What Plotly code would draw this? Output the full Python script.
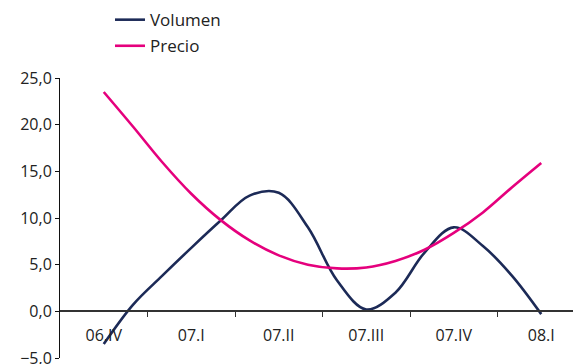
import plotly.graph_objects as go

quarters = ["06.IV", "07.I", "07.II", "07.III", "07.IV", "08.I"]
# monthly observations, 3 per quarter, from 06.IV to 08.I
volumen = [-3.5, 0.7, 3.8, 6.8, 9.7, 12.4, 12.7, 9.0, 3.3, 0.2, 2.0, 6.3, 9.0, 7.0, 3.8, -0.3]
precio = [23.5, 19.8, 16.0, 12.6, 9.8, 7.6, 6.0, 5.0, 4.6, 4.7, 5.4, 6.6, 8.4, 10.6, 13.3, 15.9]

x_pos = [i / 3 for i in range(len(volumen))]

NAVY = "#1c2a57"
MAGENTA = "#e5007d"
FONT = "Open Sans"

fig = go.Figure()
fig.add_trace(go.Scatter(x=x_pos, y=volumen, name="Volumen", mode="lines",
                         line=dict(color=NAVY, width=2.6, shape="spline", smoothing=1.0),
                         legendgroup="a"))
fig.add_trace(go.Scatter(x=x_pos, y=precio, name="Precio", mode="lines",
                         line=dict(color=MAGENTA, width=2.6, shape="spline", smoothing=1.0),
                         legendgroup="b"))

fig.update_layout(
    width=581, height=364,
    margin=dict(l=52, r=4, t=70, b=14, autoexpand=False),
    paper_bgcolor="white", plot_bgcolor="white",
    separators=",.",
    font=dict(family=FONT, size=16, color="#222222"),
    showlegend=True,
    legend=dict(xref="paper", yref="paper", x=0.0952, y=1.271,
                xanchor="left", yanchor="top", bgcolor="rgba(0,0,0,0)",
                font=dict(size=17, color="#222222"), tracegroupgap=1,
                itemwidth=30),
    xaxis=dict(
        range=[-0.5, 5.5],
        tickmode="array",
        tickvals=list(range(len(quarters))),
        ticktext=quarters,
        ticks="outside", ticklen=5, tickcolor="rgba(0,0,0,0)",
        minor=dict(tickmode="array", tickvals=[k + 0.5 for k in range(len(quarters) - 1)],
                   ticks="outside", ticklen=5, tickcolor="#333333", tickwidth=1.2,
                   showgrid=False),
        showline=True, linecolor="#333333", linewidth=1.5,
        showgrid=False, zeroline=False,
        anchor="free", position=5 / 30,
        tickfont=dict(size=16, color="#222222"),
        ticklabelstandoff=5,
        automargin=False,
    ),
    yaxis=dict(
        range=[-5, 25], dtick=5, tick0=0, tickformat=".1f",
        showline=True, linecolor="#111111", linewidth=1,
        ticks="outside", ticklen=4, tickcolor="#111111",
        showgrid=False, zeroline=False,
        tickfont=dict(size=16, color="#222222"),
        automargin=False,
    ),
)

fig.write_html("out.html")
